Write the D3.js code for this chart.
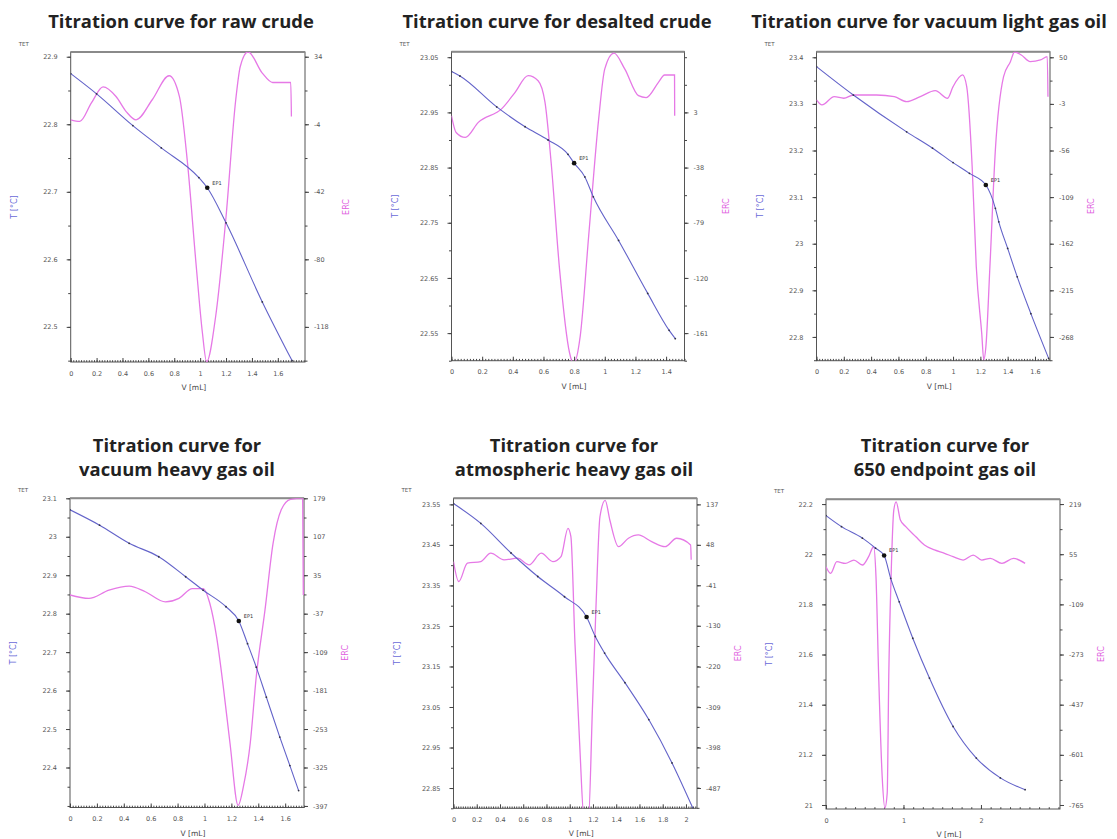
<!DOCTYPE html>
<html><head><meta charset="utf-8">
<script src="https://cdn.jsdelivr.net/npm/d3@7"></script>
<style>body{margin:0;background:#fff}svg{display:block}</style>
</head><body>
<svg id="c" width="1117" height="839"></svg>
<script>
// ---------------- DATA ----------------
const titles = [
  ["Titration curve for raw crude"],
  ["Titration curve for desalted crude"],
  ["Titration curve for vacuum light gas oil"],
  ["Titration curve for", "vacuum heavy gas oil"],
  ["Titration curve for", "atmospheric heavy gas oil"],
  ["Titration curve for", "650 endpoint gas oil"]
];
const xTicks = [
  [0,0.2,0.4,0.6,0.8,1,1.2,1.4,1.6],
  [0,0.2,0.4,0.6,0.8,1,1.2,1.4],
  [0,0.2,0.4,0.6,0.8,1,1.2,1.4,1.6],
  [0,0.2,0.4,0.6,0.8,1,1.2,1.4,1.6],
  [0,0.2,0.4,0.6,0.8,1,1.2,1.4,1.6,1.8,2],
  [0,1,2]
];
const xMax = [1.81, 1.52, 1.71, 1.74, 2.095, 3.02];
const tempTicks = [
  [22.9,22.8,22.7,22.6,22.5],
  [23.05,22.95,22.85,22.75,22.65,22.55],
  [23.4,23.3,23.2,23.1,23,22.9,22.8],
  [23.1,23,22.9,22.8,22.7,22.6,22.5,22.4],
  [23.55,23.45,23.35,23.25,23.15,23.05,22.95,22.85],
  [22.2,22,21.8,21.6,21.4,21.2,21]
];
const tempRange = [
  [22.448,22.907],[22.50,23.06],[22.749,23.412],[22.296,23.1],[22.80,23.565],[20.984,22.219]
];
const ercTicks = [
  [34,-4,-42,-80,-118],
  [3,-38,-79,-120,-161],
  [50,-3,-56,-109,-162,-215,-268],
  [179,107,35,-37,-109,-181,-253,-325,-397],
  [137,48,-41,-130,-220,-309,-398,-487],
  [219,55,-109,-273,-437,-601,-765]
];
const ercTickStart = [0,1,0,0,0,0];

// temperature curves [V mL, T °C]
const rawCrudeTemp = [[0,22.875],[0.2,22.845],[0.48,22.798],[0.7,22.765],[0.99,22.721],[1.055,22.706],[1.2,22.654],[1.48,22.537],[1.71,22.45]];
const desaltedTemp = [[0,23.024],[0.055,23.016],[0.295,22.96],[0.48,22.924],[0.63,22.90],[0.76,22.874],[0.80,22.858],[0.87,22.833],[0.925,22.797],[1.09,22.718],[1.28,22.622],[1.42,22.555],[1.46,22.54]];
const vlgoTemp = [[0,23.38],[0.27,23.319],[0.66,23.24],[0.85,23.205],[1.0,23.174],[1.12,23.151],[1.24,23.126],[1.31,23.076],[1.335,23.047],[1.40,22.99],[1.47,22.929],[1.57,22.85],[1.70,22.754]];
const vhgoTemp = [[0,23.07],[0.22,23.03],[0.44,22.983],[0.66,22.948],[0.86,22.896],[0.99,22.861],[1.16,22.818],[1.255,22.781],[1.32,22.722],[1.385,22.661],[1.46,22.583],[1.56,22.479],[1.635,22.405],[1.70,22.34]];
const ahgoTemp = [[0,23.552],[0.235,23.503],[0.495,23.43],[0.725,23.372],[0.955,23.322],[1.145,23.272],[1.22,23.224],[1.30,23.183],[1.475,23.11],[1.68,23.019],[1.88,22.912],[2.06,22.80]];
const ep650Temp = [[0,22.154],[0.2,22.11],[0.47,22.064],[0.64,22.024],[0.75,21.995],[0.835,21.904],[0.945,21.81],[1.12,21.665],[1.335,21.506],[1.64,21.313],[1.94,21.187],[2.25,21.108],[2.57,21.061]];

// ERC curves [V mL, ERC]
const rawCrudeErc = [[0,-1.5],[0.07,-2.4],[0.16,8],[0.25,17],[0.35,11.6],[0.43,3],[0.505,-1.5],[0.63,9.8],[0.76,23.3],[0.84,11.6],[0.9,-24],[0.97,-84],[1.017,-121],[1.05,-137.6],[1.12,-112],[1.2,-56],[1.275,9.8],[1.31,28.5],[1.37,36.8],[1.48,24.8],[1.56,19.5],[1.70,19.5],[1.705,0.4]];
const desaltedErc = [[0,0.5],[0.03,-11.9],[0.09,-15.6],[0.175,-4.4],[0.33,6],[0.415,17.9],[0.50,30.3],[0.565,26.5],[0.61,10.4],[0.65,-34.2],[0.705,-113.6],[0.77,-175.6],[0.795,-184],[0.84,-163],[0.895,-88.7],[0.96,-2],[1.0,35.3],[1.06,47],[1.13,35.3],[1.22,15.4],[1.27,14],[1.35,25.3],[1.39,30.8],[1.455,30.8],[1.456,0.5]];
const vlgoErc = [[0,1.5],[0.04,-4.2],[0.13,5.2],[0.2,3.4],[0.27,7.1],[0.44,7.1],[0.57,5.2],[0.66,-0.5],[0.76,5.2],[0.87,12],[0.96,3.4],[1.0,16.6],[1.07,29.9],[1.10,16.6],[1.14,-74.4],[1.17,-188],[1.21,-264],[1.225,-294],[1.24,-280],[1.27,-188],[1.31,-55],[1.37,28],[1.42,45],[1.45,56],[1.50,52.6],[1.565,45],[1.64,47],[1.69,50.7],[1.695,5.2]];
const vhgoErc = [[0,-2],[0.14,-8.5],[0.29,7],[0.44,14.6],[0.56,4],[0.71,-15],[0.81,-8.5],[0.91,10],[0.99,10],[1.04,-18],[1.09,-80.5],[1.14,-174],[1.19,-280],[1.25,-396],[1.29,-360],[1.34,-280],[1.385,-155],[1.45,-30],[1.51,94.6],[1.57,157],[1.64,177],[1.73,179],[1.735,-2]];
const ahgoErc = [[0,11.2],[0.045,-32.7],[0.12,7.7],[0.235,11.2],[0.32,29.6],[0.435,15],[0.55,18.6],[0.65,4],[0.755,29.6],[0.855,11.2],[0.925,22.2],[0.985,84.4],[1.01,66],[1.045,-167.7],[1.085,-387],[1.125,-560],[1.16,-560],[1.195,-314],[1.225,-94.7],[1.26,109.8],[1.305,146],[1.345,102.6],[1.42,44],[1.505,62.5],[1.59,69.7],[1.705,55],[1.82,44],[1.92,62.5],[2.04,47.8],[2.045,15]];
const ep650Erc = [[0,14],[0.06,-7.5],[0.14,30.5],[0.25,25],[0.36,36],[0.47,19.7],[0.55,47],[0.615,79.5],[0.645,-18],[0.68,-345],[0.725,-672],[0.76,-775],[0.79,-726],[0.81,-345],[0.84,-18],[0.875,199],[0.905,226],[0.96,167],[1.03,145],[1.16,112],[1.27,85],[1.40,69],[1.53,58],[1.64,47],[1.77,36],[1.90,52],[2.01,36],[2.12,41.6],[2.27,25],[2.42,41.6],[2.57,25]];

// end points [V, T]
const endPoints = [[1.055,22.706],[0.80,22.858],[1.24,23.126],[1.255,22.781],[1.145,23.272],[0.75,21.995]];
const epLabel = "EP1";

const tempSeries = [rawCrudeTemp, desaltedTemp, vlgoTemp, vhgoTemp, ahgoTemp, ep650Temp];
const ercSeries = [rawCrudeErc, desaltedErc, vlgoErc, vhgoErc, ahgoErc, ep650Erc];

// ---------------- LAYOUT (positions only) ----------------
const layout = [
  {l:70.7, r:305,  t:52,   b:362,   tx:181, ty:[28]},
  {l:451.5,r:684.5,t:51.7, b:360.7, tx:557, ty:[28]},
  {l:816.5,r:1050, t:51.7, b:360.7, tx:929, ty:[28]},
  {l:70,   r:304,  t:498.3,b:807.5, tx:177, ty:[452,476]},
  {l:453.5,r:697,  t:498.3,b:808.3, tx:574, ty:[452,476]},
  {l:826,  r:1060, t:499.3,b:809,   tx:945, ty:[452,476]}
];
const xMinorPer = [10,10,10,10,10,8];

const BLUE = "#6363c9", PINK = "#e679e6";
const svg = d3.select("#c");

// fit title font size
const probe = svg.append("text").attr("font-family","Open Sans").attr("font-weight","bold")
  .attr("font-size",17).text(titles[2][0]);
const titleSize = 17 * 356 / probe.node().getComputedTextLength();
probe.remove();

titles.forEach((tl, i) => {
  const L = layout[i];
  const g = svg.append("g");
  const x = d3.scaleLinear().domain([0, xMax[i]]).range([L.l, L.r]);
  const y = d3.scaleLinear().domain(tempRange[i]).range([L.b, L.t]);
  const yt = tempTicks[i];
  const step = yt[0] - yt[1];
  const rt = ercTicks[i];
  const s = ercTickStart[i];
  const yR = d3.scaleLinear().domain([rt[0], rt[rt.length-1]])
    .range([y(yt[s]), y(yt[s] - step*(rt.length-1))]);

  // title
  tl.forEach((line, k) => {
    g.append("text").attr("x", L.tx).attr("y", L.ty[k]).attr("text-anchor","middle")
      .attr("font-family","Open Sans").attr("font-weight","bold").attr("font-size", titleSize)
      .attr("fill","#222").text(line);
  });

  // clip
  const cid = "clip" + i;
  svg.append("clipPath").attr("id", cid).append("rect")
    .attr("x", L.l).attr("y", L.t).attr("width", L.r - L.l).attr("height", L.b - L.t);

  // frame
  g.append("rect").attr("x", L.l).attr("y", L.t).attr("width", L.r-L.l).attr("height", L.b-L.t)
    .attr("fill","none").attr("stroke","#555").attr("stroke-width",1);
  g.append("line").attr("x1",L.l).attr("x2",L.r).attr("y1",L.t).attr("y2",L.t)
    .attr("stroke","#8a8a8a").attr("stroke-width",2);

  const styleAxis = (sel) => {
    sel.select(".domain").remove();
    sel.selectAll("line").attr("stroke","#444");
    sel.selectAll("text").attr("font-family","DejaVu Sans").attr("font-size",6.5).attr("fill","#555");
  };

  // left axis
  const yMinVals = [];
  for (let v = yt[0] + step; v >= tempRange[i][0] - 1e-9; v -= step/2) {
    if (v <= tempRange[i][1] + 1e-9) yMinVals.push(+v.toFixed(6));
  }
  g.append("g").attr("transform",`translate(${L.l},0)`)
    .call(d3.axisLeft(y).tickValues(yMinVals).tickSize(2.5).tickFormat("")).call(styleAxis);
  g.append("g").attr("transform",`translate(${L.l},0)`)
    .call(d3.axisLeft(y).tickValues(yt).tickSize(4).tickPadding(9).tickFormat(d => d)).call(styleAxis);

  // right axis
  const rstep = rt[0] - rt[1];
  const rMin = [];
  const lo = yR.invert(L.b), hi = yR.invert(L.t);
  for (let v = rt[0] + rstep; v >= lo - 1e-9; v -= rstep/2) {
    if (v <= hi + 1e-9) rMin.push(v);
  }
  g.append("g").attr("transform",`translate(${L.r},0)`)
    .call(d3.axisRight(yR).tickValues(rMin).tickSize(2.5).tickFormat("")).call(styleAxis);
  g.append("g").attr("transform",`translate(${L.r},0)`)
    .call(d3.axisRight(yR).tickValues(rt).tickSize(4).tickPadding(5).tickFormat(d => d)).call(styleAxis);

  // bottom axis
  const xt = xTicks[i];
  const xstep = xt[1] - xt[0];
  const xm = [];
  for (let v = 0; v <= xMax[i] + 1e-9; v += xstep / xMinorPer[i]) xm.push(v);
  g.append("g").attr("transform",`translate(0,${L.b})`)
    .call(d3.axisBottom(x).tickValues(xm).tickSize(-1.8).tickFormat("")).call(styleAxis);
  g.append("g").attr("transform",`translate(0,${L.b})`)
    .call(d3.axisBottom(x).tickValues(xt).tickSize(-4).tickPadding(9).tickFormat(d => d)).call(styleAxis);

  // axis titles
  const cy = (L.t + L.b) / 2;
  g.append("text").attr("transform",`translate(${L.l-54},${cy}) rotate(-90)`).attr("text-anchor","middle")
    .attr("font-family","DejaVu Sans").attr("font-size",8).attr("fill","#6a6ad8").text("T [°C]");
  g.append("text").attr("transform",`translate(${L.r+44},${cy}) rotate(-90)`).attr("text-anchor","middle")
    .attr("font-family","DejaVu Sans").attr("font-size",8).attr("fill","#e060e0").text("ERC");
  g.append("text").attr("x", (L.l+L.r)/2 + 6).attr("y", L.b + 28).attr("text-anchor","middle")
    .attr("font-family","DejaVu Sans").attr("font-size",7.5).attr("fill","#444").text("V [mL]");
  g.append("text").attr("x", L.l - 52).attr("y", L.t - 6)
    .attr("font-family","DejaVu Sans").attr("font-size",5.5).attr("fill","#555").text("TET");

  // curves
  const plot = g.append("g").attr("clip-path",`url(#${cid})`);
  plot.append("path").datum(ercSeries[i])
    .attr("d", d3.line().x(d => x(d[0])).y(d => yR(d[1])).curve(d3.curveMonotoneX))
    .attr("fill","none").attr("stroke",PINK).attr("stroke-width",1.3);
  plot.append("path").datum(tempSeries[i])
    .attr("d", d3.line().x(d => x(d[0])).y(d => y(d[1])).curve(d3.curveMonotoneX))
    .attr("fill","none").attr("stroke",BLUE).attr("stroke-width",1.1);
  plot.selectAll("circle.m").data(tempSeries[i]).join("circle").attr("class","m")
    .attr("cx", d => x(d[0])).attr("cy", d => y(d[1])).attr("r", 0.9).attr("fill","#334");

  // end point
  const ep = endPoints[i];
  g.append("circle").attr("cx", x(ep[0])).attr("cy", y(ep[1])).attr("r", 2.3).attr("fill","#111");
  g.append("text").attr("x", x(ep[0]) + 5).attr("y", y(ep[1]) - 3)
    .attr("font-family","DejaVu Sans").attr("font-size",5).attr("fill","#333").text(epLabel);
});
</script>
</body></html>
